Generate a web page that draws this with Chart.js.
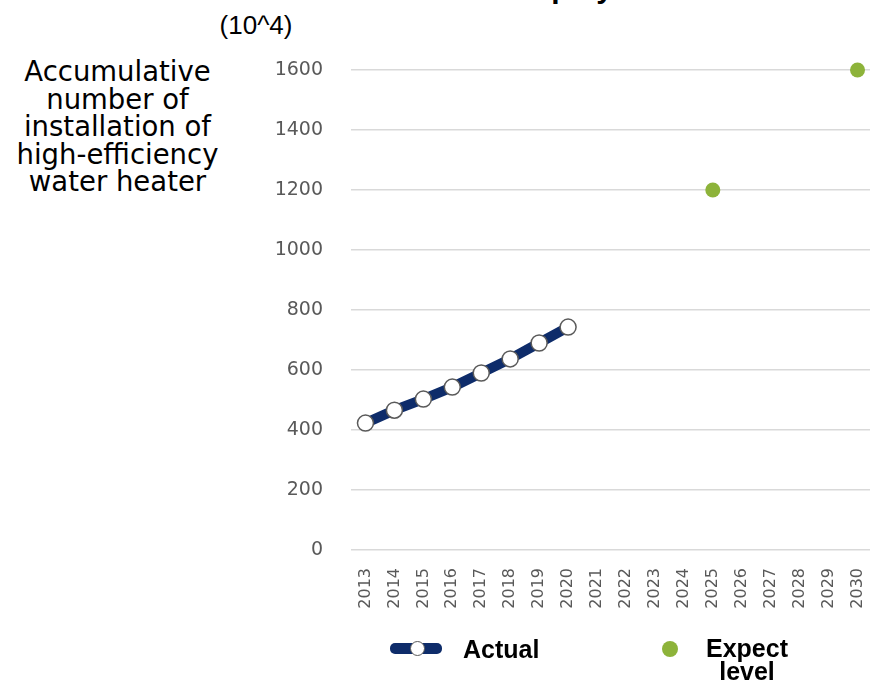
<!DOCTYPE html>
<html lang="en">

<head>
    <meta charset="UTF-8">
    <script src="https://cdn.jsdelivr.net/npm/chart.js"></script>
    <title>High-efficiency water heater</title>
    <style>
        html,
        body {
            margin: 0;
            padding: 0;
            width: 870px;
            height: 685px;
            overflow: hidden;
            background: #ffffff;
        }

        #chartBox {
            position: absolute;
            left: 0;
            top: 0;
        }

        .txt {
            position: absolute;
            white-space: nowrap;
            color: #000000;
        }

        /* title, cut off at the top edge like the reference */
        #topTitle {
            left: 513px;
            top: -27px;
            font: bold 30px "Liberation Sans", Arial, sans-serif;
            line-height: 30px;
        }

        #unit {
            left: 206px;
            width: 100px;
            top: 12px;
            text-align: center;
            font: 26px "Liberation Sans", Arial, sans-serif;
            line-height: 26px;
        }

        #yTitle {
            left: 0;
            width: 235px;
            top: 58px;
            text-align: center;
            font: 27.5px "DejaVu Sans", sans-serif;
            line-height: 27.5px;
        }

        .legTxt {
            font: bold 25px "Liberation Sans", Arial, sans-serif;
            line-height: 23px;
        }

        #legActual {
            left: 463px;
            top: 638px;
        }

        #legExpect {
            left: 697px;
            width: 100px;
            top: 637px;
            text-align: center;
        }

        #symLine {
            position: absolute;
            left: 390px;
            top: 643px;
            width: 52px;
            height: 11px;
            border-radius: 5px;
            background: #0e2c6a;
        }

        #symLine span {
            position: absolute;
            left: 20px;
            top: -2px;
            width: 13px;
            height: 13px;
            border-radius: 50%;
            background: #ffffff;
            border: 1px solid #5a5a5a;
        }

        #symDot {
            position: absolute;
            left: 662px;
            top: 641px;
            width: 16px;
            height: 16px;
            border-radius: 50%;
            background: #8db33a;
        }
    </style>
</head>

<body>
    <div class="txt" id="topTitle">Deployment</div>
    <div class="txt" id="unit">(10^4)</div>
    <div class="txt" id="yTitle">Accumulative<br>number of<br>installation of<br>high-efficiency<br>water heater</div>

    <div id="chartBox">
        <canvas id="heaterChart" width="872" height="685"></canvas>
    </div>

    <!-- legend -->
    <div id="symLine"><span></span></div>
    <div class="txt legTxt" id="legActual">Actual</div>
    <div id="symDot"></div>
    <div class="txt legTxt" id="legExpect">Expect<br>level</div>

    <script>
        // years on the x axis
        const years = ['2013', '2014', '2015', '2016', '2017', '2018', '2019', '2020', '2021',
            '2022', '2023', '2024', '2025', '2026', '2027', '2028', '2029', '2030'];

        // actual installations (10^4 units), 2013-2020
        const actualValues = [423, 466, 503, 543, 590, 637, 690, 743,
            null, null, null, null, null, null, null, null, null, null];

        // expected level, 2025 and 2030
        const expectValues = [null, null, null, null, null, null, null, null, null,
            null, null, null, 1200, null, null, null, null, 1600];

        const yMax = 1600;
        const yStep = 200;

        const ctx = document.getElementById('heaterChart').getContext('2d');
        const heaterChart = new Chart(ctx, {
            type: 'line',
            data: {
                labels: years,
                datasets: [{
                    label: 'Actual',
                    data: actualValues,
                    borderColor: '#0e2c6a',
                    borderWidth: 10,
                    borderCapStyle: 'butt',
                    pointRadius: 8,
                    pointBackgroundColor: '#ffffff',
                    pointBorderColor: '#5a5a5a',
                    pointBorderWidth: 1.5,
                    clip: false,
                    spanGaps: false
                }, {
                    label: 'Expect level',
                    data: expectValues,
                    showLine: false,
                    pointRadius: 7.5,
                    pointBackgroundColor: '#8db33a',
                    pointBorderColor: '#8db33a',
                    pointBorderWidth: 0,
                    clip: false
                }]
            },
            options: {
                responsive: false,
                animation: false,
                devicePixelRatio: 1,
                layout: {
                    autoPadding: false,
                    padding: { left: 271, top: 70, right: 0, bottom: 0 }
                },
                plugins: {
                    legend: { display: false },
                    tooltip: { enabled: false }
                },
                scales: {
                    x: {
                        offset: true,
                        grid: { display: false, drawTicks: false },
                        border: { display: false },
                        ticks: {
                            minRotation: 90,
                            maxRotation: 90,
                            autoSkip: false,
                            padding: 18,
                            color: '#595959',
                            font: { family: 'DejaVu Sans', size: 16 }
                        },
                        afterFit: function (s) {
                            s.height = 135;
                            s.paddingLeft = 0;
                            s.paddingRight = 0;
                        }
                    },
                    y: {
                        min: 0,
                        max: yMax,
                        grid: { color: '#d9d9d9', lineWidth: 1.5, drawTicks: false },
                        border: { display: false },
                        ticks: {
                            stepSize: yStep,
                            padding: 28,
                            color: '#595959',
                            font: { family: 'DejaVu Sans', size: 19 },
                            callback: function (v) { return String(v); }
                        },
                        afterFit: function (s) { s.width = 80; }
                    }
                }
            }
        });
    </script>
</body>
</html>
